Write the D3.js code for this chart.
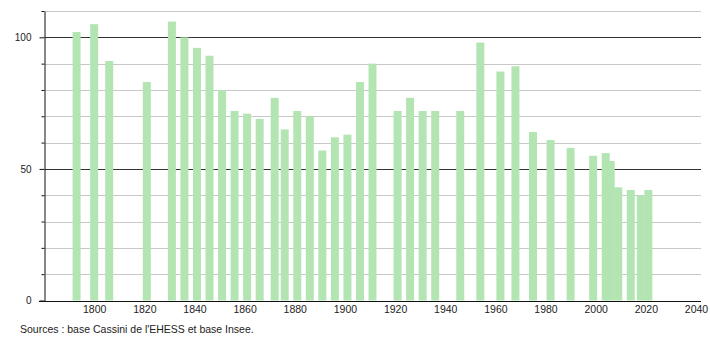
<!DOCTYPE html>
<html>
<head>
<meta charset="utf-8">
<script src="https://cdn.jsdelivr.net/npm/d3@7"></script>
<style>
  body { margin: 0; background: #fff; }
  text { font-family: "Liberation Sans", Arial, sans-serif; fill: #222; }
</style>
</head>
<body>
<div id="chart"></div>
<script>
// Census years and population
var years = [1793, 1800, 1806, 1821, 1831, 1836, 1841, 1846, 1851, 1856,
             1861, 1866, 1872, 1876, 1881, 1886, 1891, 1896, 1901, 1906,
             1911, 1921, 1926, 1931, 1936, 1946, 1954, 1962, 1968, 1975,
             1982, 1990, 1999, 2004, 2006, 2009, 2014, 2018, 2021];
var population = [102, 105, 91, 83, 106, 100, 96, 93, 80, 72,
                  71, 69, 77, 65, 72, 70, 57, 62, 63, 83,
                  90, 72, 77, 72, 72, 72, 98, 87, 89, 64,
                  61, 58, 55, 56, 53, 43, 42, 40, 42];
var xTicks = [1800, 1820, 1840, 1860, 1880, 1900, 1920, 1940, 1960, 1980, 2000, 2020, 2040];
var yTicks = [0, 10, 20, 30, 40, 50, 60, 70, 80, 90, 100, 110];
var yLabels = [0, 50, 100];
var source = "Sources : base Cassini de l'EHESS et base Insee.";

var width = 710, height = 340;

var svg = d3.select("#chart")
  .append("svg")
    .attr("width", width)
    .attr("height", height);

var x = d3.scaleLinear().domain([1780, 2042]).range([44, 701]);
var y = d3.scaleLinear().domain([0, 110]).range([300.5, 11]);

// grid lines
svg.append("g")
  .selectAll("line")
  .data(yTicks.filter(function(d) { return d > 0; }))
  .enter()
  .append("line")
    .attr("x1", 45)
    .attr("x2", 701)
    .attr("y1", function(d) { return Math.round(y(d)) + 0.5; })
    .attr("y2", function(d) { return Math.round(y(d)) + 0.5; })
    .attr("stroke", function(d) { return d % 50 === 0 ? "#333" : "#c8c8c8"; })
    .attr("stroke-width", 1);

// bars
var barW = 8;
svg.append("g")
  .selectAll("rect")
  .data(years)
  .enter()
  .append("rect")
    .attr("x", function(d) { return x(d) - barW / 2; })
    .attr("y", function(d, i) { return y(population[i]); })
    .attr("width", barW)
    .attr("height", function(d, i) { return y(0) - y(population[i]); })
    .attr("fill", "#b3e5b3");

// y axis
var yAxis = d3.axisLeft(y)
  .tickValues(yTicks)
  .tickSize(0)
  .tickFormat(function(d) { return yLabels.indexOf(d) >= 0 ? d : ""; });
var gy = svg.append("g")
  .attr("transform", "translate(44.5,0)")
  .call(yAxis);
gy.select(".domain").attr("stroke", "#111");
gy.selectAll(".tick line")
  .attr("x2", function(d) { return yLabels.indexOf(d) >= 0 ? -5 : -3; })
  .attr("stroke", "#111");
gy.selectAll(".tick text")
  .attr("x", -13)
  .style("font-size", "10px")
  .style("font-family", "Liberation Sans, Arial, sans-serif")
  .attr("fill", "#222");

// x axis
var xAxis = d3.axisBottom(x)
  .tickValues(xTicks)
  .tickSize(0)
  .tickFormat(d3.format("d"));
var gx = svg.append("g")
  .attr("transform", "translate(0," + (Math.round(y(0)) + 0.5) + ")")
  .call(xAxis);
gx.select(".domain").remove();
gx.append("line")
  .attr("x1", 39)
  .attr("x2", 701)
  .attr("stroke", "#111");
gx.selectAll(".tick text")
  .attr("y", 4)
  .style("font-size", "10.5px")
  .style("font-family", "Liberation Sans, Arial, sans-serif")
  .attr("fill", "#222");

// source note
svg.append("text")
  .attr("x", 20)
  .attr("y", 333)
  .style("font-size", "10.5px")
  .text(source);
</script>
</body>
</html>
